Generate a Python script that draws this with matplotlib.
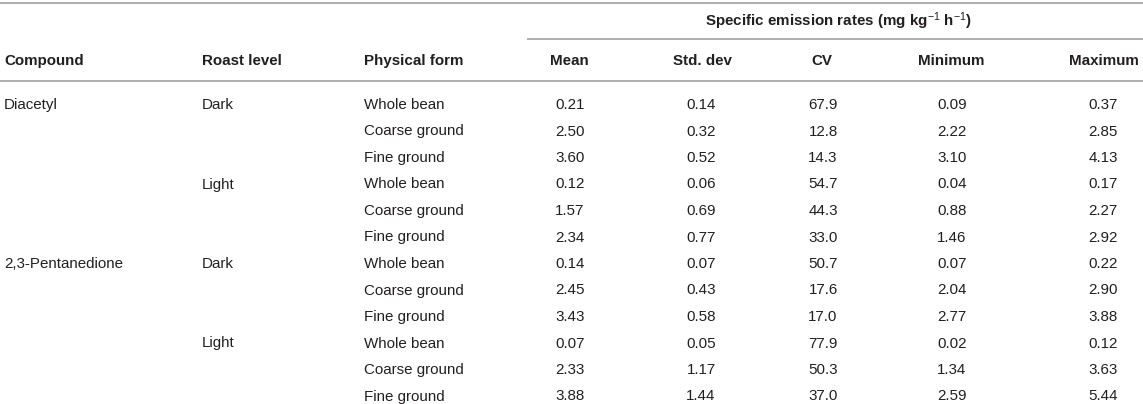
import matplotlib
matplotlib.use("Agg")
import matplotlib.pyplot as plt

plt.rcParams['font.family'] = ['Liberation Sans', 'DejaVu Sans']
plt.rcParams['mathtext.fontset'] = 'custom'
plt.rcParams['mathtext.rm'] = 'Liberation Sans'
plt.rcParams['mathtext.it'] = 'Liberation Sans'
plt.rcParams['mathtext.bf'] = 'Liberation Sans:bold'

compounds = ["Diacetyl", "", "", "", "", "", "2,3-Pentanedione", "", "", "", "", ""]
roast = ["Dark", "", "", "Light", "", "", "Dark", "", "", "Light", "", ""]
forms = ["Whole bean", "Coarse ground", "Fine ground"] * 4
mean = ["0.21", "2.50", "3.60", "0.12", "1.57", "2.34", "0.14", "2.45", "3.43", "0.07", "2.33", "3.88"]
std_dev = ["0.14", "0.32", "0.52", "0.06", "0.69", "0.77", "0.07", "0.43", "0.58", "0.05", "1.17", "1.44"]
cv = ["67.9", "12.8", "14.3", "54.7", "44.3", "33.0", "50.7", "17.6", "17.0", "77.9", "50.3", "37.0"]
minimum = ["0.09", "2.22", "3.10", "0.04", "0.88", "1.46", "0.07", "2.04", "2.77", "0.02", "1.34", "2.59"]
maximum = ["0.37", "2.85", "4.13", "0.17", "2.27", "2.92", "0.22", "2.90", "3.88", "0.12", "3.63", "5.44"]

text_headers = ["Compound", "Roast level", "Physical form"]
num_headers = ["Mean", "Std. dev", "CV", "Minimum", "Maximum"]
group_title = r"Specific emission rates (mg kg$^{-1}$ h$^{-1}$)"

W, H = 1143, 404
fig = plt.figure(figsize=(W / 100, H / 100), dpi=100)
ax = fig.add_axes([0, 0, 1, 1])
ax.set_xlim(0, W)
ax.set_ylim(H, 0)
ax.axis("off")

fs = 10.9
color = "#231f20"
line_color = "#a8a8a8"

left_x = [4, 202, 364]
head_cx = [569, 702, 822, 951, 1104]
val_cx = [570, 701, 823, 952, 1103]

# rules
ax.plot([0, W], [2.5, 2.5], color=line_color, lw=1.3)
ax.plot([528, W], [38.5, 38.5], color=line_color, lw=1.3)
ax.plot([0, W], [80.5, 80.5], color=line_color, lw=1.3)

ax.text(838, 26, group_title, fontsize=fs, fontweight="bold",
        color=color, ha="center", va="baseline")
for x, t in zip(left_x, text_headers):
    ax.text(x, 65, t, fontsize=fs, fontweight="bold", color=color, ha="left", va="baseline")
for x, t in zip(head_cx, num_headers):
    ax.text(x, 65, t, fontsize=fs, fontweight="bold", color=color, ha="center", va="baseline")

row_y0, row_h = 109, 26.5
for i in range(len(forms)):
    y = row_y0 + i * row_h
    for x, t in zip(left_x, [compounds[i], roast[i], forms[i]]):
        ax.text(x, y, t, fontsize=fs, color=color, ha="left", va="baseline")
    for x, col in zip(val_cx, [mean, std_dev, cv, minimum, maximum]):
        ax.text(x, y, col[i], fontsize=fs, color=color, ha="center", va="baseline")

fig.savefig("out.png", dpi=100)
